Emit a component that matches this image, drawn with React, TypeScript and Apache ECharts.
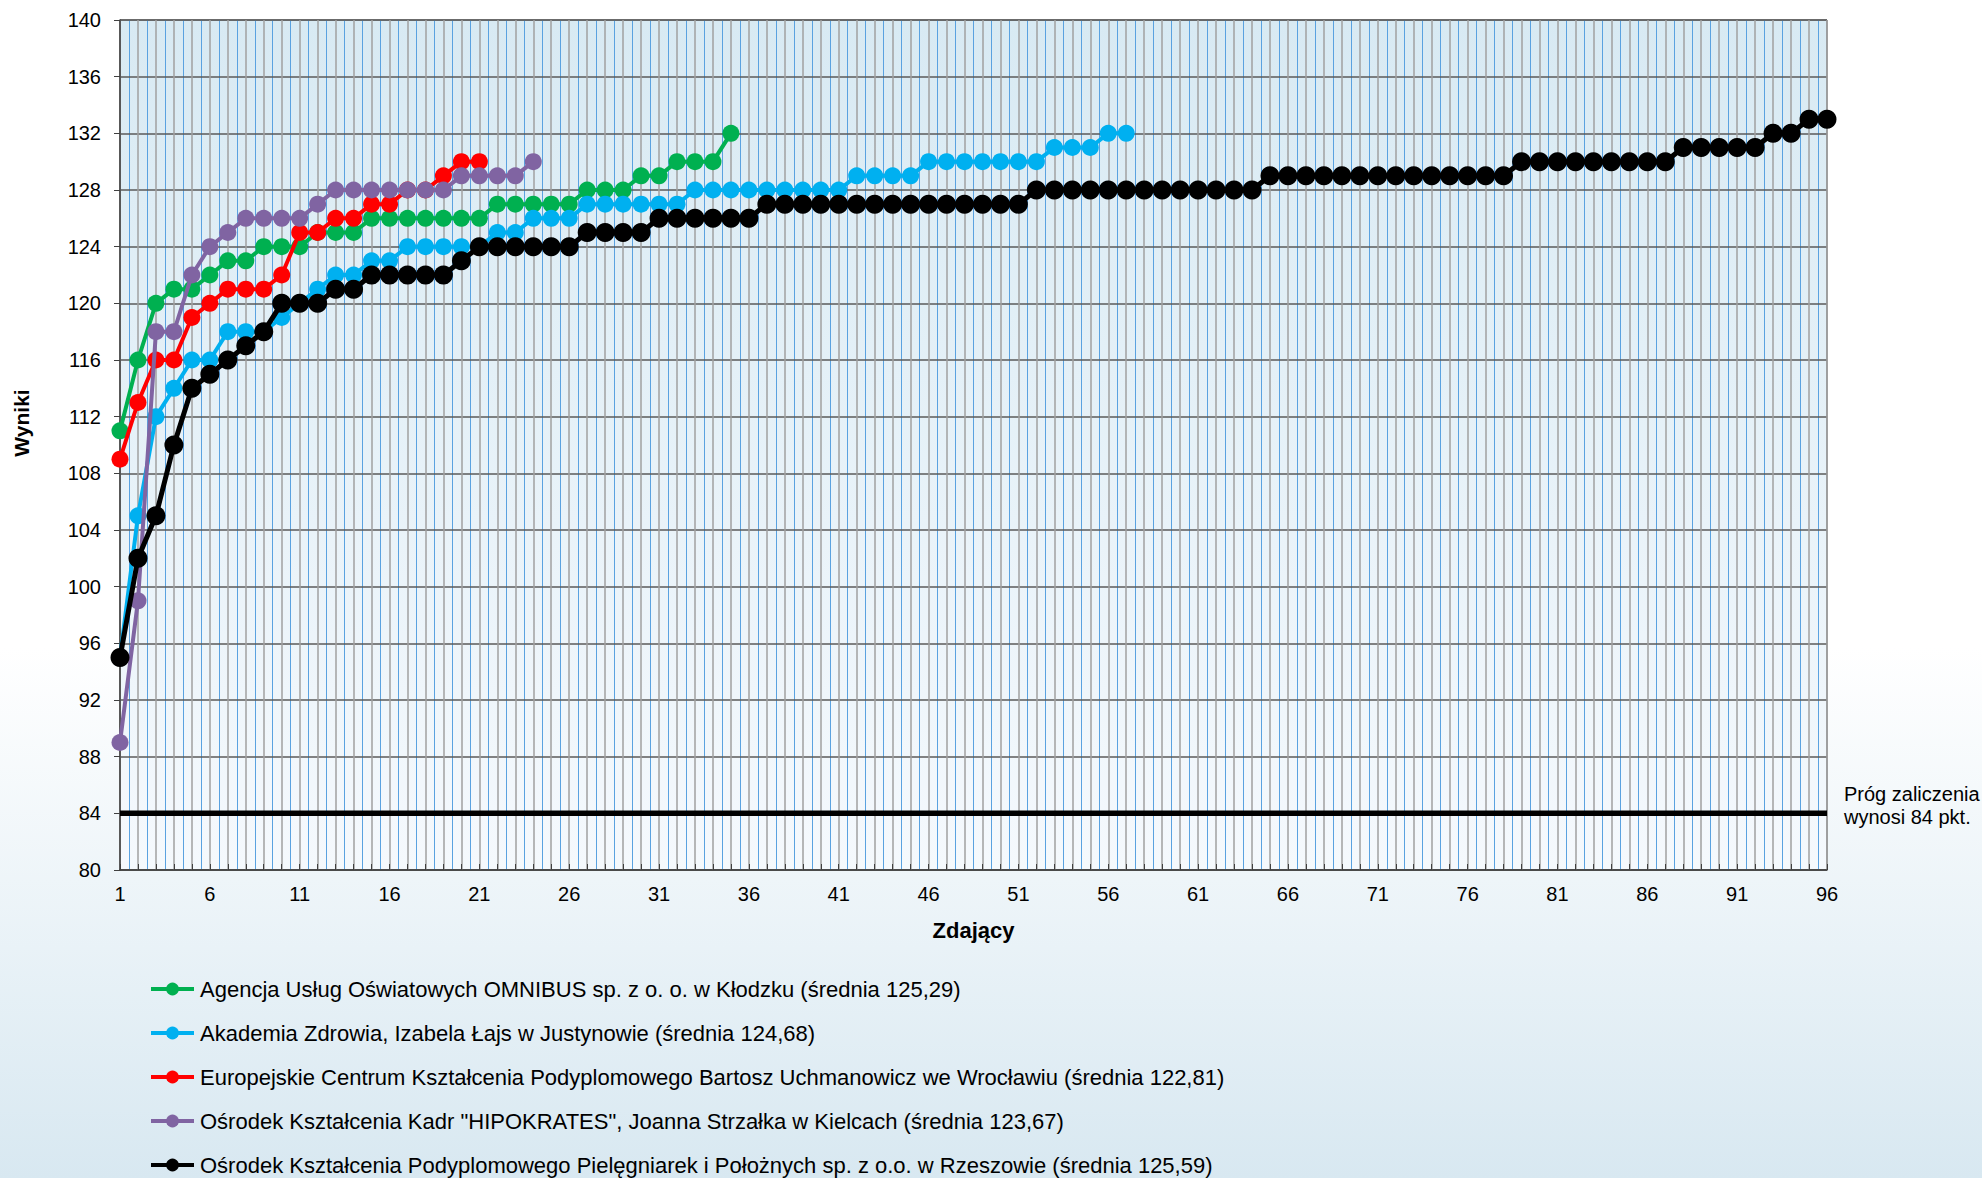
import React, { useEffect, useRef } from "react";
import * as echarts from "echarts";

const categories: string[] = Array.from({ length: 96 }, (_, i) => String(i + 1));

const seriesNames: string[] = [
  "Agencja Usług Oświatowych OMNIBUS sp. z o. o. w Kłodzku (średnia 125,29)",
  "Akademia Zdrowia, Izabela Łajs w Justynowie (średnia 124,68)",
  "Europejskie Centrum Kształcenia Podyplomowego Bartosz Uchmanowicz we Wrocławiu (średnia 122,81)",
  "Ośrodek Kształcenia Kadr \"HIPOKRATES\", Joanna Strzałka w Kielcach (średnia 123,67)",
  "Ośrodek Kształcenia Podyplomowego Pielęgniarek i Położnych sp. z o.o. w Rzeszowie (średnia 125,59)",
];

const seriesColors: string[] = ["#00B050", "#00B0F0", "#FF0000", "#8064A2", "#000000"];

const omnibus: number[] = [111, 116, 120, 121, 121, 122, 123, 123, 124, 124, 124, 125, 125, 125, 126, 126, 126, 126, 126, 126, 126, 127, 127, 127, 127, 127, 128, 128, 128, 129, 129, 130, 130, 130, 132];

const akademia: number[] = [95, 105, 112, 114, 116, 116, 118, 118, 118, 119, 120, 121, 122, 122, 123, 123, 124, 124, 124, 124, 124, 125, 125, 126, 126, 126, 127, 127, 127, 127, 127, 127, 128, 128, 128, 128, 128, 128, 128, 128, 128, 129, 129, 129, 129, 130, 130, 130, 130, 130, 130, 130, 131, 131, 131, 132, 132];

const europejskie: number[] = [109, 113, 116, 116, 119, 120, 121, 121, 121, 122, 125, 125, 126, 126, 127, 127, 128, 128, 129, 130, 130];

const hipokrates: number[] = [89, 99, 118, 118, 122, 124, 125, 126, 126, 126, 126, 127, 128, 128, 128, 128, 128, 128, 128, 129, 129, 129, 129, 130];

const rzeszow: number[] = [95, 102, 105, 110, 114, 115, 116, 117, 118, 120, 120, 120, 121, 121, 122, 122, 122, 122, 122, 123,
  124, 124, 124, 124, 124, 124, 125, 125, 125, 125, 126, 126, 126, 126, 126, 126,
  127, 127, 127, 127, 127, 127, 127, 127, 127, 127, 127, 127, 127, 127, 127,
  128, 128, 128, 128, 128, 128, 128, 128, 128, 128, 128, 128, 128,
  129, 129, 129, 129, 129, 129, 129, 129, 129, 129, 129, 129, 129, 129,
  130, 130, 130, 130, 130, 130, 130, 130, 130,
  131, 131, 131, 131, 131, 132, 132, 133, 133];

const seriesValues: number[][] = [omnibus, akademia, europejskie, hipokrates, rzeszow];

const thresholdValue = 84;
const thresholdText = "Próg zaliczenia\nwynosi 84 pkt.";
const yTicks = { min: 80, max: 140, interval: 4 };

const FONT = "'Liberation Sans', Arial, sans-serif";

export default function App() {
  const ref = useRef<HTMLDivElement>(null);

  useEffect(() => {
    if (!ref.current) return;
    const chart = echarts.init(ref.current, undefined, { renderer: "svg" });

    const lineSeries = seriesNames.map((name, i) => ({
      name,
      type: "line",
      xAxisIndex: 0,
      data: seriesValues[i],
      symbol: "circle",
      symbolSize: i === 4 ? 19 : 17,
      showSymbol: true,
      showAllSymbol: true,
      color: seriesColors[i],
      lineStyle: { width: i === 4 ? 5 : 4, color: seriesColors[i] },
      itemStyle: { color: seriesColors[i] },
      z: 3 + i,
    }));

    const option: any = {
      animation: false,
      backgroundColor: {
        type: "linear",
        x: 0, y: 0, x2: 0, y2: 1,
        colorStops: [
          { offset: 0, color: "#ffffff" },
          { offset: 0.55, color: "#ffffff" },
          { offset: 1, color: "#d8e8f1" },
        ],
      },
      textStyle: { fontFamily: FONT },
      grid: {
        left: 120,
        right: 155,
        top: 20,
        bottom: 308,
        show: true,
        borderColor: "#404040",
        borderWidth: 1,
        backgroundColor: {
          type: "linear",
          x: 0, y: 0, x2: 0, y2: 1,
          colorStops: [
            { offset: 0, color: "#d8eaf3" },
            { offset: 1, color: "#f5f9fd" },
          ],
        },
      },
      legend: {
        data: seriesNames,
        orient: "vertical",
        left: 149,
        top: 977,
        height: 230,
        padding: 0,
        itemWidth: 43,
        itemHeight: 16,
        itemGap: 20,
        itemStyle: { borderWidth: 0 },
        lineStyle: { width: 4 },
        textStyle: { fontFamily: FONT, fontSize: 22, color: "#000", lineHeight: 24, padding: [0, 0, 0, 1] },
      },
      xAxis: [
        {
          type: "category",
          data: categories,
          boundaryGap: false,
          z: 2,
          axisLine: { show: true, lineStyle: { color: "#404040", width: 1.5 } },
          axisTick: { show: true, inside: true, length: 6, interval: 0, lineStyle: { color: "#404040" } },
          axisLabel: { interval: 4, fontSize: 20, color: "#000", margin: 14, fontFamily: FONT },
          splitLine: { show: true, interval: 0, lineStyle: { color: "#a0a0a0", width: 1.5 } },
          name: "Zdający",
          nameLocation: "middle",
          nameGap: 49,
          nameTextStyle: { fontSize: 22, fontWeight: "bold", color: "#000", fontFamily: FONT },
        },
        {
          type: "value",
          min: 1,
          max: 96,
          interval: 1,
          position: "bottom",
          z: 1,
          axisLine: { show: false },
          axisTick: { show: false },
          axisLabel: { show: false },
          splitLine: { show: false },
          minorTick: { show: false, splitNumber: 2 },
          minorSplitLine: { show: true, lineStyle: { color: "#5aa2e0", width: 1 } },
        },
      ],
      yAxis: {
        type: "value",
        min: yTicks.min,
        max: yTicks.max,
        interval: yTicks.interval,
        z: 2,
        axisLine: { show: true, lineStyle: { color: "#404040", width: 1.5 } },
        axisTick: { show: true, length: 6, lineStyle: { color: "#404040" } },
        axisLabel: { fontSize: 20, color: "#000", margin: 19, fontFamily: FONT },
        splitLine: { show: true, lineStyle: { color: "#5a5a5a", width: 1.5 } },
        name: "Wyniki",
        nameLocation: "middle",
        nameRotate: 90,
        nameGap: 88,
        nameTextStyle: { fontSize: 21, fontWeight: "bold", color: "#000", fontFamily: FONT, padding: [0, 0, 0, 44] },
      },
      series: [
        {
          name: "Próg",
          type: "line",
          xAxisIndex: 0,
          data: categories.map(() => thresholdValue),
          symbol: "none",
          lineStyle: { width: 5.5, color: "#000" },
          z: 2,
        },
        ...lineSeries,
      ],
      graphic: [
        {
          type: "text",
          left: 1844,
          top: 782,
          style: {
            text: thresholdText,
            fontSize: 20,
            lineHeight: 23,
            fill: "#000",
            fontFamily: FONT,
          },
        },
      ],
    };

    chart.setOption(option);
    return () => chart.dispose();
  }, []);

  return (
    <div
      ref={ref}
      style={{ position: "fixed", left: 0, top: 0, width: 1982, height: 1178 }}
    />
  );
}
